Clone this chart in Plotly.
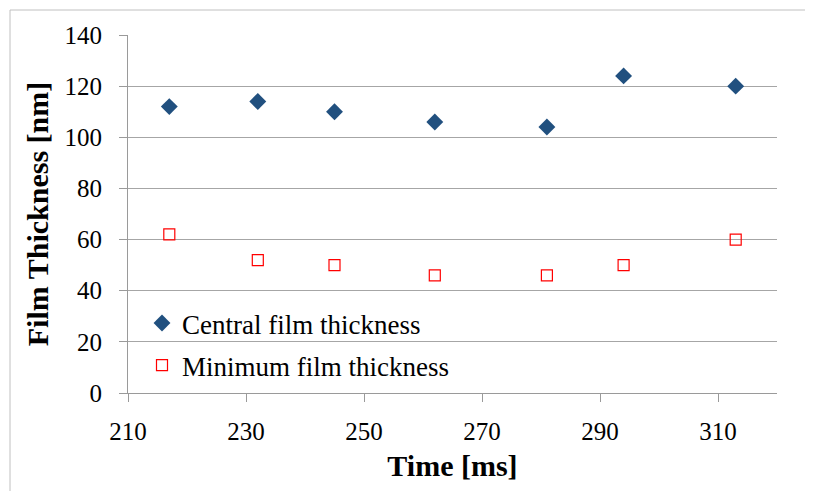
import plotly.graph_objects as go

time_ms = [217, 232, 245, 262, 281, 294, 313]
central_nm = [112, 114, 110, 106, 104, 124, 120]
minimum_nm = [62, 52, 50, 46, 46, 50, 60]

x_ticks = [210, 230, 250, 270, 290, 310]
y_ticks = [0, 20, 40, 60, 80, 100, 120, 140]

FONT = "Liberation Serif"

# page body has an 8px default margin; lay the figure out in page pixels minus that offset
OFF = 8
W, H = 813 - OFF, 491 - OFF
L, R, T, B = 128 - OFF, 36, 35 - OFF, 98
pw = W - L - R
ph = H - T - B


def px2paper_x(px):
    return (px - OFF - L) / pw


def px2paper_y(py):
    return (H - B - (py - OFF)) / ph


fig = go.Figure()
fig.add_trace(go.Scatter(
    x=time_ms, y=central_nm, mode="markers", name="Central film thickness",
    legendgroup="a",
    marker=dict(symbol="diamond", size=13, color="#21507F", line=dict(width=0)),
))
fig.add_trace(go.Scatter(
    x=time_ms, y=minimum_nm, mode="markers", name="Minimum film thickness",
    legendgroup="b",
    marker=dict(symbol="square-open", size=11, color="#FF0000", line=dict(width=1.2, color="#FF0000")),
))

fig.update_layout(
    width=W, height=H,
    margin=dict(l=L, r=R, t=T, b=B, autoexpand=False),
    paper_bgcolor="white", plot_bgcolor="white",
    font=dict(family=FONT, size=25, color="black"),
    showlegend=True,
    legend=dict(
        x=px2paper_x(142), y=px2paper_y(299), xanchor="left", yanchor="top",
        bgcolor="rgba(0,0,0,0)", font=dict(family=FONT, size=27, color="black"),
        tracegroupgap=4, itemwidth=30,
    ),
    xaxis=dict(
        range=[210, 320], tickvals=x_ticks, ticktext=[str(v) for v in x_ticks],
        showgrid=False, zeroline=False,
        showline=True, linecolor="#9A9A9A", linewidth=1,
        ticks="outside", ticklen=8, tickcolor="#9A9A9A", tickwidth=1,
        ticklabelstandoff=8,
        tickfont=dict(family=FONT, size=25, color="black"),
        title=dict(text="<b>Time [ms]</b>", font=dict(family=FONT, size=30, color="black"), standoff=10),
        automargin=False,
    ),
    yaxis=dict(
        range=[0, 140], tickvals=y_ticks, ticktext=[str(v) for v in y_ticks],
        showgrid=True, gridcolor="#A6A6A6", gridwidth=1,
        zeroline=False,
        showline=True, linecolor="#9A9A9A", linewidth=1,
        ticks="outside", ticklen=8, tickcolor="#9A9A9A", tickwidth=1,
        ticklabelstandoff=12,
        tickfont=dict(family=FONT, size=25, color="black"),
        title=dict(text="<b>Film Thickness [nm]</b>", font=dict(family=FONT, size=30, color="black"), standoff=7),
        automargin=False,
    ),
    shapes=[
        dict(type="line", xref="paper", yref="paper",
             x0=px2paper_x(10), x1=px2paper_x(10), y0=px2paper_y(10), y1=px2paper_y(495),
             line=dict(color="#C0C0C0", width=1)),
        dict(type="line", xref="paper", yref="paper",
             x0=px2paper_x(10), x1=px2paper_x(815), y0=px2paper_y(10), y1=px2paper_y(10),
             line=dict(color="#C0C0C0", width=1)),
    ],
)

fig.write_html("out.html")
